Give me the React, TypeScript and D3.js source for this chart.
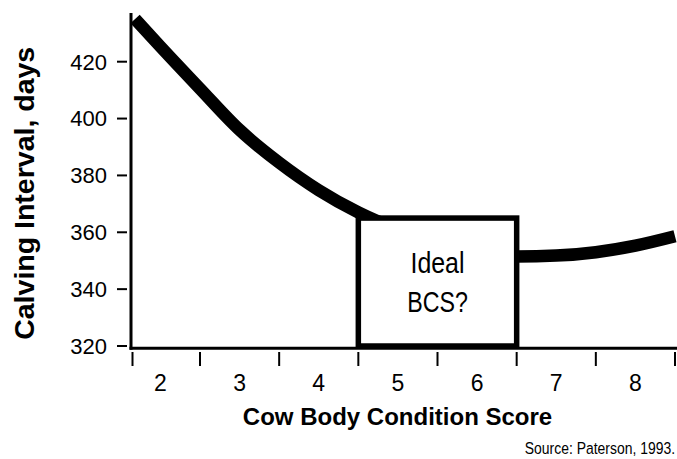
import React from "react";
import * as d3 from "d3";

const categories = [2, 3, 4, 5, 6, 7, 8];
const bandEdges = [2.5, 3.5, 4.5, 5.5, 6.5, 7.5, 8.5];
const yTicks = [320, 340, 360, 380, 400, 420];
const curveScore = [1.68, 2, 2.5, 3, 3.5, 4, 4.5, 5, 5.5, 6, 6.5, 7, 7.5, 8, 8.5];
const curveDays = [435, 425.3, 410.5, 396, 384.5, 374.8, 367, 361, 356.5, 353.3, 351.5, 351.8, 353, 355.3, 358.6];
const idealBox = { from: 4.5, to: 6.5, top: 365, bottom: 320 };
const idealLabel = ["Ideal", "BCS?"];
const xTitle = "Cow Body Condition Score";
const yTitle = "Calving Interval, days";
const source = "Source: Paterson, 1993.";

const W = 677;
const H = 459;
const FONT = "'Liberation Sans', Arial, Helvetica, sans-serif";

export default function App() {
  const x = d3.scaleLinear().domain([2.5, 8.5]).range([200, 675]);
  const y = d3.scaleLinear().domain([320, 420]).range([346, 61.7]);
  const x0 = 131;
  const axisY = 348.3;
  const pts = curveScore.map((s, i) => [s, curveDays[i]] as [number, number]);
  const line = d3
    .line<[number, number]>()
    .x((d) => x(d[0]))
    .y((d) => y(d[1]))
    .curve(d3.curveMonotoneX);
  const bx0 = x(idealBox.from);
  const bx1 = x(idealBox.to);
  const by0 = y(idealBox.top);
  const by1 = y(idealBox.bottom);
  const bcx = (bx0 + bx1) / 2;

  return (
    <svg
      width={W}
      height={H}
      viewBox={`0 0 ${W} ${H}`}
      style={{ position: "absolute", left: 0, top: 0, background: "#fff" }}
      fontFamily={FONT}
    >
      <rect x={0} y={0} width={W} height={H} fill="#fff" />
      {/* curve */}
      <path d={line(pts) || ""} fill="none" stroke="#000" strokeWidth={12.5} strokeLinecap="butt" />
      {/* ideal box */}
      <rect x={bx0} y={by0} width={bx1 - bx0} height={by1 - by0} fill="#fff" stroke="#000" strokeWidth={5.5} />
      <text transform={`translate(${bcx},273) scale(0.86,1)`} fontSize={29} textAnchor="middle">
        {idealLabel[0]}
      </text>
      <text transform={`translate(${bcx},311.7) scale(0.8,1)`} fontSize={29} textAnchor="middle">
        {idealLabel[1]}
      </text>
      {/* axes */}
      <line x1={x0} x2={x0} y1={13} y2={axisY + 1.5} stroke="#000" strokeWidth={3} />
      <line x1={x0 - 1.5} x2={W} y1={axisY} y2={axisY} stroke="#000" strokeWidth={3} />
      {yTicks.map((t) => (
        <g key={t}>
          <line x1={117} x2={127} y1={y(t)} y2={y(t)} stroke="#000" strokeWidth={2} />
          <text x={107} y={y(t)} dy="0.36em" fontSize={22} textAnchor="end">
            {t}
          </text>
        </g>
      ))}
      <line x1={x0 + 1.5} x2={x0 + 1.5} y1={352} y2={366} stroke="#000" strokeWidth={2} />
      {bandEdges.map((e) => (
        <line key={e} x1={x(e)} x2={x(e)} y1={352} y2={366} stroke="#000" strokeWidth={2} />
      ))}
      {categories.map((c) => (
        <text key={c} x={x(c)} y={391} fontSize={23} textAnchor="middle">
          {c}
        </text>
      ))}
      <text x={397.5} y={425} fontSize={24} fontWeight="bold" textAnchor="middle">
        {xTitle}
      </text>
      <text
        transform="translate(33.5,193.3) rotate(-90)"
        fontSize={28.5}
        fontWeight="bold"
        textAnchor="middle"
      >
        {yTitle}
      </text>
      <text transform="translate(675,453.5) scale(0.82,1)" fontSize={17} textAnchor="end">
        {source}
      </text>
    </svg>
  );
}
